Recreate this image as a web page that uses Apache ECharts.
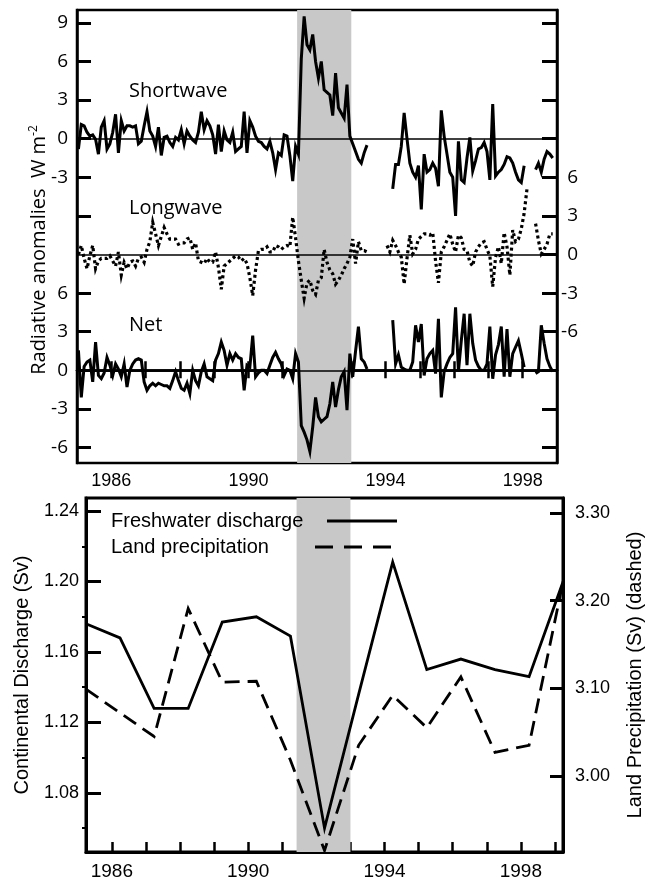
<!DOCTYPE html>
<html><head><meta charset="utf-8">
<script src="https://cdn.jsdelivr.net/npm/echarts@6/dist/echarts.min.js"></script>
<style>html,body{margin:0;padding:0;background:#fff}#c{width:653px;height:882px}</style>
</head><body><div id="c"></div>
<script>
// ---- Top panel: monthly radiative anomalies (W m-2), Jan 1985 .. Dec 1998 ----
const shortwave = [
 -0.8,1.1,1.0,0.5,0.2,0.3,-0.05,-1.2,0.9,1.4,-0.8,-0.4,
 0.5,1.9,-1.1,1.4,0.6,1.0,1.0,0.9,1.0,-0.4,-0.2,1.0,
 2.1,0.6,0.2,-0.6,0.9,-1.3,0.1,0.2,-0.3,-0.6,0.1,-0.1,
 0.7,-0.4,0.6,0.2,-0.1,-0.3,0.5,2.1,0.7,1.4,1.0,0.3,
 -1.2,1.1,-1.0,0.6,-0.1,-0.3,0.5,-1.0,-0.8,-0.6,2.1,-1.1,
 1.4,0.9,0.2,-0.2,-0.3,-0.6,-0.8,-0.2,-1.1,-2.4,-1.1,-1.3,
 0.3,0.2,-1.3,-3.3,-0.6,-1.2,6.2,9.5,7.3,6.9,8.1,6.0,
 4.7,6.0,3.8,3.6,3.4,1.8,5.1,2.4,2.0,1.6,4.2,0.2,
 -0.4,-1.0,-1.6,-1.9,-1.1,-0.5,null,null,null,null,null,null,
 null,null,-3.9,-2.0,-2.0,-0.6,2.0,0.0,-1.9,-2.6,-3.0,-2.1,
 -5.5,-1.2,-2.6,-2.4,-1.9,-2.3,-3.7,2.2,0.2,-1.2,-2.6,-3.0,
 -6.0,-0.2,-3.2,-3.4,-1.5,0.1,-2.5,-1.7,-0.8,-0.7,-0.3,-1.0,
 -3.2,2.7,-2.9,-2.6,-2.4,-2.0,-1.4,-1.5,-1.9,-2.6,-3.2,-3.4,
 -2.1,null,null,null,-2.4,-1.9,-2.6,-1.6,-1.0,-1.2,-1.5,null
];
const longwave = [
 0.0,0.7,-0.3,-1.1,-0.1,0.7,-1.1,-0.5,-0.3,-0.3,-0.3,-0.1,
 -0.5,-0.9,0.2,-1.6,-0.6,-1.1,-0.6,-0.5,-0.9,-0.3,-0.2,-0.6,
 0.4,1.0,2.5,1.6,0.7,1.4,2.1,1.6,1.2,1.2,1.2,0.8,
 0.9,0.9,1.2,1.3,0.4,0.9,-0.5,-0.6,-0.7,-0.3,-0.6,-0.6,
 0.2,-1.0,-2.7,-0.9,-0.7,-0.5,-0.3,-0.1,-0.2,-0.5,-0.3,-0.7,
 -1.8,-3.2,-1.2,0.3,0.4,0.4,0.6,0.2,0.2,0.7,0.6,0.4,
 0.6,0.7,0.6,2.9,1.3,-0.5,-2.0,-3.4,-2.2,-2.0,-2.8,-3.1,
 -2.0,-1.8,0.4,-0.6,-1.2,-1.5,-2.3,-2.0,-1.6,-1.1,-0.7,-0.2,
 1.2,-0.7,1.0,0.3,0.3,0.2,null,null,null,null,null,null,
 0.7,0.2,1.1,0.7,0.2,-0.2,-2.3,-0.3,1.5,0.05,0.4,1.2,
 1.4,1.6,1.6,1.5,1.7,-0.5,-2.2,0.2,0.6,1.1,1.6,0.8,
 0.2,1.5,1.3,0.4,0.3,-0.6,-0.9,0.2,0.6,0.9,1.0,0.4,
 -0.1,-2.5,-0.2,0.6,-0.7,1.7,0.6,-1.6,1.9,1.0,1.2,2.0,
 3.2,5.1,null,null,2.4,1.1,0.05,0.4,0.8,1.6,1.6,null
];
const net = [
 1.55,-2.1,0.3,0.65,0.8,-0.9,2.2,-0.4,-0.65,-0.2,1.0,0.4,
 -0.4,0.5,0.1,-0.5,0.5,-1.3,0.0,0.5,0.8,0.9,0.8,-0.9,
 -1.55,-1.2,-1.0,-1.2,-1.0,-1.1,-1.2,-1.2,-1.4,-0.8,-0.1,-0.8,
 -1.4,-1.55,-1.0,-1.8,0.0,-0.8,-1.2,-0.1,0.5,-0.5,-0.65,-0.8,
 0.8,1.3,2.2,1.55,0.4,1.3,0.8,1.3,1.0,0.9,-1.55,0.4,
 0.25,2.7,-0.5,-0.2,0.0,0.0,-0.25,0.4,1.0,1.4,0.9,0.5,
 -0.4,0.1,0.0,-0.65,1.3,0.65,-4.3,-4.8,-5.4,-6.3,-4.4,-2.1,
 -3.6,-4.0,-3.8,-3.6,-2.6,-0.9,-2.85,-1.5,-0.5,-0.1,-3.1,1.3,
 -0.5,1.5,3.4,0.9,0.65,0.1,null,null,null,null,null,null,
 null,null,3.9,0.5,1.2,0.25,0.1,0.0,0.0,0.65,3.5,2.2,
 3.6,-0.4,0.9,1.3,1.55,-0.25,4.0,-2.1,-0.1,0.5,1.0,1.3,
 4.9,-0.1,2.3,4.4,0.4,4.4,2.1,0.8,0.3,0.0,0.0,0.5,
 3.4,-0.65,1.2,2.0,3.4,-0.5,3.2,-0.5,1.3,1.8,2.3,1.3,
 0.25,null,null,null,-0.25,-0.1,3.5,2.1,0.9,0.3,-0.1,null
];
// ---- Bottom panel: annual values ----
const annualYears = [1985,1986,1987,1988,1989,1990,1991,1992,1993,1994,1995,1996,1997,1998,1999];
const discharge = [1.176,1.168,1.128,1.128,1.177,1.180,1.169,1.060,1.136,1.211,1.150,1.156,1.150,1.146,1.200];
const precipitation = [3.099,3.072,3.045,3.191,3.107,3.108,3.018,2.915,3.035,3.092,3.055,3.113,3.027,3.035,3.222];
// ---- ticks / labels ----
const yearTicksTop = [1986,1987,1988,1989,1990,1991,1992,1993,1994,1995,1996,1997,1998];
const yearTicksBottom = [1986,1987,1988,1989,1990,1991,1992,1993,1994,1995,1996,1997,1998,1999];
const yearLabels = [1986,1990,1994,1998];
const leftTopTicks = [-6,-3,0,3,6,12,15,18,21,24,27];
const leftTopLabels = [-6,-3,0,3,6,15,18,21,24,27];
const rightTopTicks = [-6,-3,0,3,6,9,12,15,18,21,24,27];
const rightTopLabels = [3,6,9,12,15];
const dischargeTicks = [1.08,1.12,1.16,1.20,1.24];
const dischargeMinor = [1.06,1.10,1.14,1.18,1.22];
const precipTicks = [3.00,3.10,3.20,3.30];
const eruption = [1991.42, 1993.0];

const SW_OFF = 18, LW_OFF = 9, NET_OFF = 0;
const monthX = shortwave.map((_, i) => 1985 + (i + 0.5) / 12);
const build = (arr, off) => arr.map((v, i) => [monthX[i], v == null ? '-' : v + off]);
const annualX = annualYears.map(y => y + 0.24);

const BLK = '#000';
const FS = '"Open Sans", sans-serif';
const FH = '"Liberation Sans", Arial, sans-serif';
const axLine = w => ({ show: true, lineStyle: { color: BLK, width: w } });
const yearFmt = v => String(Math.round(v));

const chart = echarts.init(document.getElementById('c'), null, { renderer: 'canvas' });
chart.setOption({
  animation: false,
  backgroundColor: '#fff',
  grid: [
    { left: 77, top: 10, width: 480, height: 453, show: true, borderColor: BLK, borderWidth: 2.5, backgroundColor: 'transparent' },
    { left: 86, top: 498, width: 480, height: 354, show: true, borderColor: BLK, borderWidth: 3, backgroundColor: 'transparent' }
  ],
  xAxis: [
    { gridIndex: 0, type: 'value', min: 1985, max: 1999, position: 'bottom', axisLine: axLine(2.5),
      axisTick: { inside: true, length: 9, customValues: yearTicksTop, lineStyle: { color: BLK, width: 2.5 } },
      axisLabel: { customValues: yearLabels, formatter: yearFmt, margin: 9, fontSize: 18, fontFamily: FH, color: BLK },
      splitLine: { show: false } },
    { gridIndex: 0, type: 'value', min: 1985, max: 1999, position: 'top', axisLine: axLine(2.5),
      axisTick: { inside: true, length: 8, customValues: yearTicksTop, lineStyle: { color: BLK, width: 2.5 } },
      axisLabel: { show: false }, splitLine: { show: false } },
    { gridIndex: 1, type: 'value', min: 1985.242, max: 1999.236, position: 'bottom', axisLine: axLine(3),
      axisTick: { inside: true, length: 10, customValues: yearTicksBottom, lineStyle: { color: BLK, width: 2.5 } },
      axisLabel: { customValues: yearLabels, formatter: yearFmt, margin: 10, fontSize: 19, fontFamily: FH, color: BLK },
      splitLine: { show: false } }
  ],
  yAxis: [
    { gridIndex: 0, type: 'value', min: -7.2, max: 28, position: 'left', axisLine: axLine(2.5),
      axisTick: { inside: true, length: 14, customValues: leftTopTicks, lineStyle: { color: BLK, width: 3 } },
      axisLabel: { customValues: leftTopLabels, margin: 9, fontSize: 19, fontFamily: FS, color: BLK,
        formatter: v => String(Math.round(v >= 13 ? v - SW_OFF : v - NET_OFF)) },
      splitLine: { show: false } },
    { gridIndex: 0, type: 'value', min: -7.2, max: 28, position: 'right', axisLine: axLine(2.5),
      axisTick: { inside: true, length: 15, customValues: rightTopTicks, lineStyle: { color: BLK, width: 3 } },
      axisLabel: { customValues: rightTopLabels, margin: 21, align: 'right', fontSize: 19, fontFamily: FS, color: BLK,
        formatter: v => String(Math.round(v - LW_OFF)) },
      splitLine: { show: false } },
    { gridIndex: 1, type: 'value', min: 1.0465, max: 1.2474, position: 'left', axisLine: axLine(3),
      axisTick: { inside: true, length: 15, customValues: dischargeTicks, lineStyle: { color: BLK, width: 3 } },
      axisLabel: { customValues: dischargeTicks, margin: 7, fontSize: 18, fontFamily: FH, color: BLK,
        formatter: v => v.toFixed(2) },
      name: 'Continental Discharge (Sv)', nameLocation: 'middle', nameGap: 54, nameRotate: 90,
      nameTextStyle: { fontSize: 20, fontFamily: FH, color: BLK },
      splitLine: { show: false } },
    { gridIndex: 1, type: 'value', min: 1.0465, max: 1.2474, position: 'left', axisLine: { show: false },
      axisTick: { inside: false, length: 4, customValues: dischargeMinor, lineStyle: { color: BLK, width: 2 } },
      axisLabel: { show: false }, splitLine: { show: false } },
    { gridIndex: 1, type: 'value', min: 2.9133, max: 3.317, position: 'right', axisLine: axLine(3),
      axisTick: { inside: true, length: 13, customValues: precipTicks, lineStyle: { color: BLK, width: 3 } },
      axisLabel: { customValues: precipTicks, margin: 12, fontSize: 18, fontFamily: FH, color: BLK,
        formatter: v => v.toFixed(2) },
      name: 'Land Precipitation (Sv) (dashed)', nameLocation: 'middle', nameGap: 62, nameRotate: 90,
      nameTextStyle: { fontSize: 20, fontFamily: FH, color: BLK },
      splitLine: { show: false } }
  ],
  series: [
    { type: 'line', xAxisIndex: 0, yAxisIndex: 0, data: [[1985, '-']], z: 1, silent: true,
      markArea: { silent: true, itemStyle: { color: '#c8c8c8' },
        data: [[{ xAxis: eruption[0] }, { xAxis: eruption[1] }]] } },
    { type: 'line', xAxisIndex: 2, yAxisIndex: 2, data: [[1986, '-']], z: 1, silent: true,
      markArea: { silent: true, itemStyle: { color: '#c8c8c8' },
        data: [[{ xAxis: eruption[0] }, { xAxis: eruption[1] }]] } },
    { name: 'Shortwave', type: 'line', xAxisIndex: 0, yAxisIndex: 0, data: build(shortwave, SW_OFF),
      symbol: 'none', z: 3, lineStyle: { color: BLK, width: 3, join: 'miter', miterLimit: 6 },
      markLine: { silent: true, symbol: 'none', label: { show: false },
        lineStyle: { color: BLK, width: 1.5, type: 'solid' },
        data: [{ yAxis: SW_OFF }, { yAxis: LW_OFF }, { yAxis: NET_OFF }] } },
    { name: 'Longwave', type: 'line', xAxisIndex: 0, yAxisIndex: 0, data: build(longwave, LW_OFF),
      symbol: 'none', z: 3, lineStyle: { color: BLK, width: 3.2, type: [3, 3], join: 'miter', miterLimit: 6 } },
    { name: 'Net', type: 'line', xAxisIndex: 0, yAxisIndex: 0, data: build(net, NET_OFF),
      symbol: 'none', z: 3, lineStyle: { color: BLK, width: 3, join: 'miter', miterLimit: 6 } },
    { name: 'Freshwater discharge', type: 'line', xAxisIndex: 2, yAxisIndex: 2,
      data: annualX.map((x, i) => [x, discharge[i]]), symbol: 'none', z: 3,
      lineStyle: { color: BLK, width: 2.8, join: 'miter' } },
    { name: 'Land precipitation', type: 'line', xAxisIndex: 2, yAxisIndex: 4,
      data: annualX.map((x, i) => [x, precipitation[i]]), symbol: 'none', z: 3,
      lineStyle: { color: BLK, width: 2.8, type: [15, 8], join: 'miter' } }
  ],
  graphic: [
    { type: 'text', x: 39, y: 250, rotation: Math.PI / 2, z: 10,
      style: { text: '{n|Radiative anomalies  W m}{s|-2}', align: 'center', verticalAlign: 'middle',
        rich: { n: { fontSize: 20, fontFamily: FS, fill: BLK },
                s: { fontSize: 12, fontFamily: FS, fill: BLK, verticalAlign: 'top', padding: [0, 0, 10, 0] } } } },
    { type: 'text', x: 129, y: 91, z: 10, style: { text: 'Shortwave', fontSize: 20, fontFamily: FS, fill: BLK, verticalAlign: 'middle' } },
    { type: 'text', x: 129, y: 208, z: 10, style: { text: 'Longwave', fontSize: 20, fontFamily: FS, fill: BLK, verticalAlign: 'middle' } },
    { type: 'text', x: 129, y: 325, z: 10, style: { text: 'Net', fontSize: 20, fontFamily: FS, fill: BLK, verticalAlign: 'middle' } },
    { type: 'text', x: 111, y: 521, z: 10, style: { text: 'Freshwater discharge', fontSize: 20, fontFamily: FH, fill: BLK, verticalAlign: 'middle' } },
    { type: 'text', x: 111, y: 547, z: 10, style: { text: 'Land precipitation', fontSize: 20, fontFamily: FH, fill: BLK, verticalAlign: 'middle' } },
    { type: 'line', z: 10, shape: { x1: 327, y1: 521, x2: 397, y2: 521 }, style: { stroke: BLK, lineWidth: 2.8 } },
    { type: 'line', z: 10, shape: { x1: 315, y1: 547, x2: 395, y2: 547 }, style: { stroke: BLK, lineWidth: 2.8, lineDash: [18, 11] } }
  ]
});
</script></body></html>
